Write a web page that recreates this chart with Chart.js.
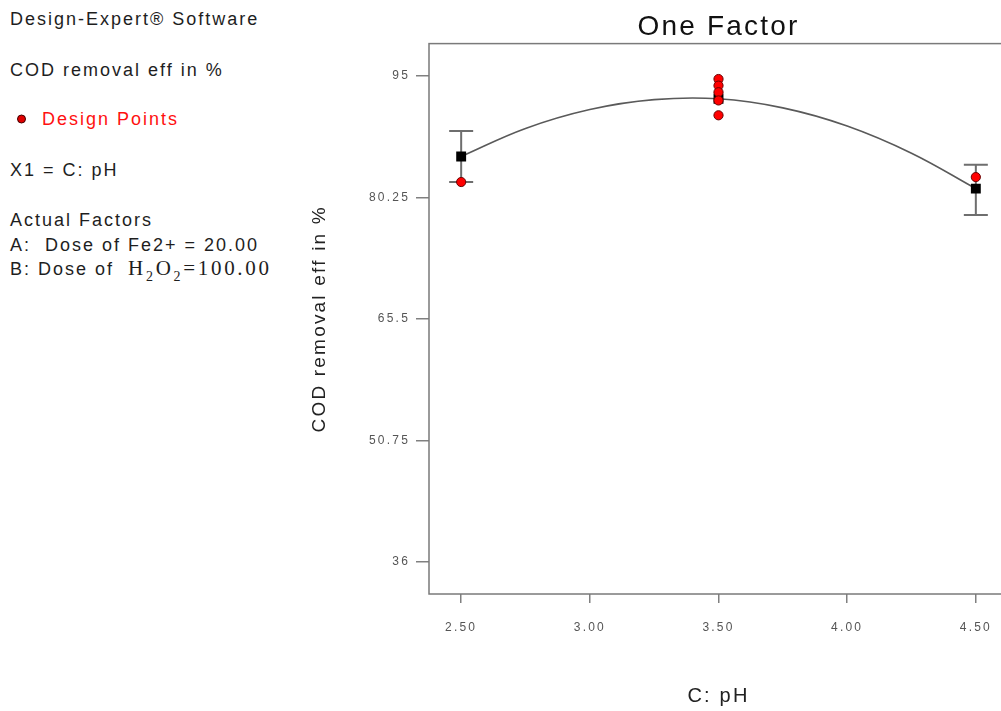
<!DOCTYPE html>
<html>
<head>
<meta charset="utf-8">
<title>One Factor</title>
<script src="https://cdn.jsdelivr.net/npm/chart.js@4/dist/chart.umd.min.js"></script>
<style>
  html, body { margin: 0; padding: 0; background: #fff; width: 1001px; height: 711px; overflow: hidden; }
  #wrap { position: absolute; left: 0; top: 0; width: 1010px; height: 711px; }
  .info { position: absolute; left: 10px; font-family: "Liberation Sans", Arial, sans-serif; font-size: 18px;
          letter-spacing: 2px; color: #1e1e1e; white-space: pre; line-height: 1; transform: translateY(-50%); }
  .red { color: #ff1010; }
  .dot { position: absolute; left: 17px; width: 9px; height: 9px; border-radius: 50%; background: #e00000;
         border: 1px solid #400000; transform: translateY(-50%); box-sizing: border-box; }
  .serif { font-family: "Liberation Serif", "Times New Roman", serif; font-size: 21px; letter-spacing: 2.7px; }
  .serif sub { font-size: 14px; }
</style>
</head>
<body>
<div class="info" style="top:19px">Design-Expert® Software</div>
<div class="info" style="top:70px">COD removal eff in %</div>
<div class="dot" style="top:119px"></div>
<div class="info red" style="top:119px; left:42px">Design Points</div>
<div class="info" style="top:170px">X1 = C: pH</div>
<div class="info" style="top:220px">Actual Factors</div>
<div class="info" style="top:245px">A:  Dose of Fe2+ = 20.00</div>
<div class="info" style="top:271px">B: Dose of  <span class="serif">H<sub>2</sub>O<sub>2</sub>=100.00</span></div>
<div id="wrap"><canvas id="chart" width="1010" height="711"></canvas></div>
<script>
// Axis ticks
const phTicks = [2.5, 3.0, 3.5, 4.0, 4.5];
const codTicks = [36, 50.75, 65.5, 80.25, 95];

// Fitted response curve (COD removal %) along pH
const fitPH  = [2.5, 2.75, 3.0, 3.25, 3.5, 3.75, 4.0, 4.25, 4.5];
const fitCOD = [85.2, 88.6, 90.9, 92.1, 92.2, 91.1, 88.9, 85.6, 81.3];

// Predicted means at the factor levels with their LSD bars
// (the centre level's bar sits under the replicate points)
const levelPH = [2.5, 3.5, 4.5];
const predCOD = [85.2, 92.2, 81.3];
const lsdLow  = [82.1, null, 78.1];
const lsdHigh = [88.3, null, 84.2];

// Design points (experimental runs)
const runPH  = [2.5, 3.5, 3.5, 3.5, 3.5, 3.5, 4.5];
const runCOD = [82.1, 94.6, 93.8, 93.0, 92.0, 90.2, 82.7];

const FONT = '"Liberation Sans", Arial, sans-serif';
const SPACING = '2.2px';

// Wider letter spacing for every canvas label
const spacingPlugin = {
  id: 'letterSpacing',
  beforeLayout(chart) { chart.ctx.letterSpacing = SPACING; },
  beforeDraw(chart) { chart.ctx.letterSpacing = SPACING; }
};

// Plot frame and error bars
const framePlugin = {
  id: 'frameAndBars',
  beforeDatasetsDraw(chart) {
    const { ctx, chartArea: a, scales: { x, y } } = chart;
    ctx.save();
    ctx.strokeStyle = '#7a7a7a';
    ctx.lineWidth = 1.5;
    ctx.strokeRect(a.left, a.top, a.right - a.left, a.bottom - a.top);

    ctx.strokeStyle = '#6e6e6e';
    ctx.lineWidth = 2;
    levelPH.forEach((ph, i) => {
      if (lsdLow[i] == null || lsdHigh[i] == null) return;
      const px = x.getPixelForValue(ph);
      const yl = y.getPixelForValue(lsdLow[i]);
      const yh = y.getPixelForValue(lsdHigh[i]);
      ctx.beginPath();
      ctx.moveTo(px, yl); ctx.lineTo(px, yh);
      ctx.moveTo(px - 12, yl); ctx.lineTo(px + 12, yl);
      ctx.moveTo(px - 12, yh); ctx.lineTo(px + 12, yh);
      ctx.stroke();
    });
    ctx.restore();
  }
};

new Chart(document.getElementById('chart'), {
  type: 'scatter',
  data: {
    datasets: [
      {
        label: 'Design Points',
        data: runPH.map((v, i) => ({ x: v, y: runCOD[i] })),
        pointStyle: 'circle',
        pointRadius: 4.6,
        backgroundColor: '#ff0000',
        borderColor: '#6a0000',
        borderWidth: 1,
        showLine: false
      },
      {
        label: 'Predicted',
        data: levelPH.map((v, i) => ({ x: v, y: predCOD[i] })),
        pointStyle: 'rect',
        pointRadius: 7,
        backgroundColor: '#000',
        borderColor: '#000',
        borderWidth: 0,
        showLine: false
      },
      {
        label: 'Fit',
        data: fitPH.map((v, i) => ({ x: v, y: fitCOD[i] })),
        showLine: true,
        pointRadius: 0,
        borderColor: '#5a5a5a',
        borderWidth: 1.6,
        tension: 0.4,
        fill: false
      }
    ]
  },
  options: {
    responsive: false,
    animation: false,
    events: [],
    layout: { autoPadding: false, padding: { left: 300, right: 2, top: 0, bottom: 0 } },
    plugins: {
      legend: { display: false },
      tooltip: { enabled: false },
      title: {
        display: true,
        text: 'One Factor',
        fullSize: false,
        color: '#111',
        font: { family: FONT, size: 28, weight: 'normal', lineHeight: 1.2 },
        padding: { top: 10, bottom: 0 }
      }
    },
    scales: {
      x: {
        type: 'linear',
        min: 2.375,
        max: 4.625,
        afterBuildTicks: s => { s.ticks = phTicks.map(v => ({ value: v })); },
        afterFit: s => { s.height = 117; s.paddingLeft = 0; s.paddingRight = 0; },
        ticks: {
          callback: v => Number(v).toFixed(2),
          color: '#555',
          font: { family: FONT, size: 12 },
          padding: 17,
          maxRotation: 0
        },
        grid: { drawOnChartArea: false, drawTicks: true, tickLength: 9, color: '#808080', lineWidth: 1.5 },
        border: { display: false },
        title: {
          display: true,
          text: 'C: pH',
          color: '#222',
          font: { family: FONT, size: 20 },
          padding: { top: 0, bottom: 3 }
        }
      },
      y: {
        type: 'linear',
        min: 32.1,
        max: 98.9,
        afterBuildTicks: s => { s.ticks = codTicks.map(v => ({ value: v })); },
        afterFit: s => { s.width = 129; s.paddingTop = 0; s.paddingBottom = 0; },
        ticks: {
          callback: v => String(v),
          color: '#555',
          font: { family: FONT, size: 12 },
          padding: 6
        },
        grid: { drawOnChartArea: false, drawTicks: true, tickLength: 13, color: '#808080', lineWidth: 1.5 },
        border: { display: false },
        title: {
          display: true,
          text: 'COD removal eff in %',
          color: '#222',
          font: { family: FONT, size: 19 },
          padding: { top: 8, bottom: 0 }
        }
      }
    }
  },
  plugins: [spacingPlugin, framePlugin]
});
</script>
</body>
</html>
